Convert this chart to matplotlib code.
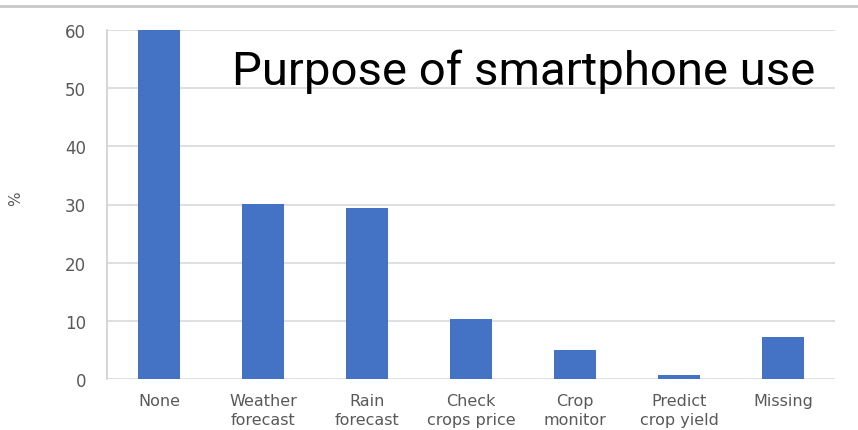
import matplotlib
matplotlib.use("Agg")
import matplotlib.pyplot as plt
from matplotlib.lines import Line2D

plt.rcParams['font.family'] = ['DejaVu Sans']

categories = ["None", "Weather\nforecast", "Rain\nforecast", "Check\ncrops price",
              "Crop\nmonitor", "Predict\ncrop yield", "Missing"]
values = [60, 30.1, 29.4, 10.3, 5.0, 0.7, 7.2]
yticks = [0, 10, 20, 30, 40, 50, 60]

fig = plt.figure(figsize=(8.58, 4.31), dpi=100)
ax = fig.add_axes([107 / 858, 1 - 380 / 431, 728 / 858, 349 / 431])

x = range(len(categories))
ax.bar(x, values, width=0.4, color="#4472c4", zorder=3)

ax.set_xlim(-0.5, len(categories) - 0.5)
ax.set_ylim(0, 60)
ax.set_yticks(yticks)
ax.set_xticks(list(x))
ax.set_xticklabels(categories, fontsize=11.5, color="#595959", linespacing=1.35)
ax.tick_params(axis="y", labelsize=12, labelcolor="#595959", length=0, pad=15)
ax.tick_params(axis="x", length=0, pad=10)
ax.grid(axis="y", color="#d9d9d9", linewidth=1.2, zorder=0)

for s in ["top", "right", "bottom"]:
    ax.spines[s].set_visible(False)
ax.spines["left"].set_color("#d0d0d0")
ax.spines["left"].set_linewidth(1.2)

ax.set_ylabel("%", fontsize=11, color="#595959")
ax.yaxis.set_label_coords(-84 / 728, 0.52)

ax.text(815 / 858, 1 - 85 / 431, "Purpose of smartphone use", transform=fig.transFigure,
        ha="right", va="baseline", fontsize=34, color="black", family="Roboto")

fig.add_artist(Line2D([0, 1], [1 - 7 / 431, 1 - 7 / 431], color="#c8c8c8",
                      linewidth=2, transform=fig.transFigure))

fig.savefig("out.png", dpi=100, facecolor="white")
